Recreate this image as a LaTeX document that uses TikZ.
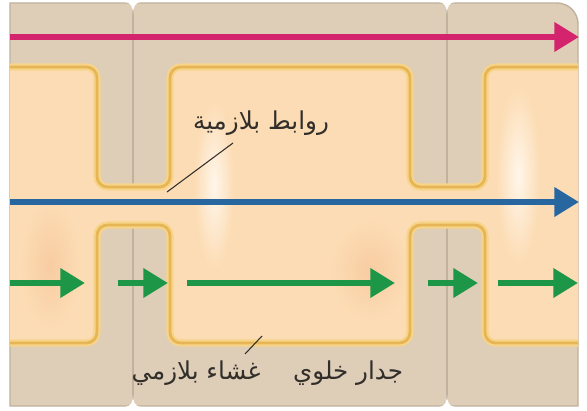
\documentclass[tikz,border=0pt]{standalone}
\usepackage{fontspec}
\newfontfamily\arabicfont[Script=Arabic]{DejaVu Sans}
\TeXXeTstate=1
\usetikzlibrary{positioning,arrows.meta}
\definecolor{wallfill}{RGB}{222,206,184}
\definecolor{wallline}{RGB}{192,178,158}
\definecolor{cellfill}{RGB}{252,220,180}
\definecolor{cellwarm}{RGB}{248,204,162}
\definecolor{cellglow}{RGB}{255,246,234}
\definecolor{membline}{RGB}{230,182,86}
\definecolor{membglow}{RGB}{247,212,136}
\definecolor{pinkflow}{RGB}{212,36,110}
\definecolor{blueflow}{RGB}{40,102,160}
\definecolor{greenflow}{RGB}{30,150,72}
\definecolor{labeltext}{RGB}{50,46,42}
\tikzset{
  flow/.style={line width=3.8pt, -{Triangle[length=14pt,width=16pt]}},
  memb/.style={draw=membline, line width=1.6pt, rounded corners=6pt,
    preaction={draw=membglow, line width=4pt}},
  lbl/.style={text=labeltext, font=\arabicfont\fontsize{14}{16}\selectfont, inner sep=1pt},
  leader/.style={draw=labeltext, line width=0.6pt}
}
\begin{document}
\begin{tikzpicture}[x=0.02cm,y=-0.02cm]
\def\xl{10}
\def\xr{578}
\def\xa{97}
\def\xb{170}
\def\xc{410}
\def\xd{485}
\def\ma{133}
\def\mb{447}

\def\ytop{67}
\def\ybot{343}
\def\ypa{187}
\def\ypb{225}

\useasboundingbox (0,0) rectangle (587,411);
\fill[white] (0,0) rectangle (587,411);
\filldraw[fill=wallfill, draw=wallline, line width=0.8pt] (\xl,406) -- (\xl,3) [rounded corners=12pt] -- (\xr,3) [sharp corners] -- (\xr,406) -- cycle;

\draw[wallline, line width=1pt] (\ma,3) -- (\ma,406);
\draw[wallline, line width=1pt] (\mb,3) -- (\mb,406);
\fill[white] (\ma-8,2) .. controls (\ma-2,2) and (\ma,8) .. (\ma,14) .. controls (\ma,8) and (\ma+2,2) .. (\ma+8,2) -- cycle;
\fill[white] (\mb-8,2) .. controls (\mb-2,2) and (\mb,8) .. (\mb,14) .. controls (\mb,8) and (\mb+2,2) .. (\mb+8,2) -- cycle;
\fill[white] (\ma-8,407) .. controls (\ma-2,407) and (\ma,401) .. (\ma,395) .. controls (\ma,401) and (\ma+2,407) .. (\ma+8,407) -- cycle;
\fill[white] (\mb-8,407) .. controls (\mb-2,407) and (\mb,401) .. (\mb,395) .. controls (\mb,401) and (\mb+2,407) .. (\mb+8,407) -- cycle;

\fill[cellfill] (\xl,\ytop) [rounded corners=6pt] -- (\xa,\ytop) -- (\xa,\ypa) -- (\xb,\ypa) -- (\xb,\ytop) -- (\xc,\ytop) -- (\xc,\ypa) -- (\xd,\ypa) -- (\xd,\ytop) [sharp corners] -- (\xr,\ytop) -- (\xr,\ybot) [rounded corners=6pt] -- (\xd,\ybot) -- (\xd,\ypb) -- (\xc,\ypb) -- (\xc,\ybot) -- (\xb,\ybot) -- (\xb,\ypb) -- (\xa,\ypb) -- (\xa,\ybot) [sharp corners] -- (\xl,\ybot) -- cycle;

\shade[inner color=cellwarm, outer color=cellfill] (50,265) ellipse (30 and 65);
\shade[inner color=cellwarm, outer color=cellfill] (370,270) ellipse (40 and 50);
\shade[inner color=cellglow, outer color=cellfill] (214,185) ellipse (20 and 85);
\shade[inner color=cellglow, outer color=cellfill] (518,175) ellipse (22 and 90);

\draw[memb] (\xl,\ytop) -- (\xa,\ytop) -- (\xa,\ypa) -- (\xb,\ypa) -- (\xb,\ytop) -- (\xc,\ytop) -- (\xc,\ypa) -- (\xd,\ypa) -- (\xd,\ytop) -- (\xr,\ytop);
\draw[memb] (\xl,\ybot) -- (\xa,\ybot) -- (\xa,\ypb) -- (\xb,\ypb) -- (\xb,\ybot) -- (\xc,\ybot) -- (\xc,\ypb) -- (\xd,\ypb) -- (\xd,\ybot) -- (\xr,\ybot);

\coordinate (pinkstart) at (\xl,37);
\coordinate (pinkend) at (579,37);
\coordinate (bluestart) at (\xl,202);
\coordinate (blueend) at (579,202);
\draw[flow, pinkflow] (pinkstart) -- (pinkend);
\draw[flow, blueflow] (bluestart) -- (blueend);

\coordinate (ga) at (\xl,283);
\coordinate (gb) at (118,283);
\coordinate (gc) at (187,283);
\coordinate (gd) at (428,283);
\coordinate (ge) at (498,283);
\draw[flow, greenflow] (ga) -- (85,283);
\draw[flow, greenflow] (gb) -- (168,283);
\draw[flow, greenflow] (gc) -- (395,283);
\draw[flow, greenflow] (gd) -- (478,283);
\draw[flow, greenflow] (ge) -- (578,283);

\node[lbl] (pdlabel) at (261,123) {\beginR روابط بلازمية\endR};
\node[lbl] (pmlabel) at (196,373) {\beginR غشاء بلازمي\endR};
\node[lbl] (cwlabel) at (348,373) {\beginR جدار خلوي\endR};

\coordinate (pdfrom) at (233,143);
\coordinate (pdto) at (167,192);
\coordinate (pmfrom) at (245,354);
\coordinate (pmto) at (262,336);
\draw[leader] (pdfrom) -- (pdto);
\draw[leader] (pmfrom) -- (pmto);
\end{tikzpicture}
\end{document}
